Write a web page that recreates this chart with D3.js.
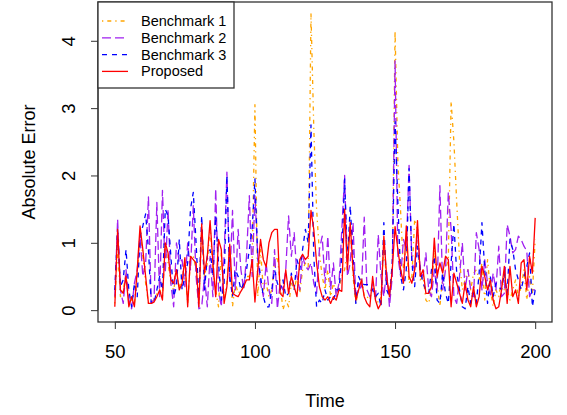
<!DOCTYPE html>
<html>
<head>
<meta charset="utf-8">
<script src="https://cdn.jsdelivr.net/npm/d3@7"></script>
<style>
  body { margin: 0; background: #fff; }
  svg { display: block; font-family: "Liberation Sans", Arial, sans-serif; }
</style>
</head>
<body>
<svg id="chart" width="567" height="415"></svg>
<script>
// time axis 50..200
const times = d3.range(50, 201);

const bench1 = [
  0.1, 0.9, 0.2, 0.3, 0.55, 0.1, 0.15, 0.1, 0.5, 1.15,
  0.8, 0.4, 0.1, 0.12, 0.15, 0.25, 0.3, 0.2, 0.95, 0.7,
  0.4, 0.3, 0.55, 0.35, 0.45, 0.7, 0.1, 0.75, 0.8, 0.6,
  0.1, 1.2, 0.5, 0.7, 1.25, 0.6, 0.3, 0.05, 0.85, 0.15,
  0.4, 0.9, 0.05, 0.4, 0.25, 0.3, 0.4, 0.5, 0.5, 0.7,
  3.05, 0.2, 0.9, 0.3, 0.4, 0.2, 0.3, 0.7, 0.8, 0.4,
  0.0, 0.15, 0.05, 0.4, 0.3, 0.5, 0.25, 0.6, 0.7, 0.6,
  4.4, 2.7, 1.5, 0.85, 0.5, 0.3, 0.6, 0.2, 0.4, 0.25,
  0.35, 0.5, 0.6, 0.9, 1.2, 0.5, 0.1, 0.3, 0.5, 0.2,
  0.2, 0.15, 0.4, 0.25, 0.1, 0.2, 1.0, 0.4, 0.3, 0.5,
  4.15, 2.2, 1.45, 0.6, 1.0, 0.4, 0.5, 1.35, 1.2, 0.45,
  0.5, 0.15, 0.1, 0.3, 0.9, 0.4, 0.05, 0.5, 0.6, 0.75,
  3.1, 2.5, 1.6, 0.75, 0.3, 0.45, 0.6, 0.3, 0.55, 0.6,
  0.45, 0.7, 0.15, 0.75, 0.3, 0.05, 0.3, 0.2, 0.45, 0.3,
  0.3, 0.15, 0.3, 0.45, 0.2, 0.35, 0.6, 0.15, 0.5, 0.25,
  1.05
];

const bench2 = [
  0.2, 1.35, 0.3, 0.1, 0.6, 0.15, 0.02, 0.4, 0.6, 1.1,
  0.5, 0.7, 1.68, 0.1, 0.15, 1.6, 0.2, 1.78, 0.55, 1.5,
  0.4, 0.05, 1.0, 0.7, 0.75, 0.35, 1.0, 0.6, 1.55, 0.5,
  0.02, 0.05, 0.5, 0.05, 0.8, 0.2, 1.8, 0.3, 0.05, 0.8,
  2.05, 0.4, 1.48, 0.3, 1.2, 0.6, 0.3, 0.8, 1.7, 0.5,
  1.7, 0.8, 0.4, 0.2, 0.7, 0.3, 0.1, 0.9, 0.02, 0.4,
  0.3, 0.6, 1.4, 0.8, 1.15, 0.5, 0.3, 0.8, 0.65, 0.6,
  0.7, 0.4, 0.25, 0.9, 1.1, 0.4, 1.1, 0.3, 0.7, 0.2,
  0.4, 1.2, 2.0, 0.5, 0.7, 1.3, 0.15, 0.4, 0.3, 1.38,
  0.3, 0.2, 0.4, 0.15, 1.12, 0.5, 0.2, 0.6, 0.05, 0.5,
  3.7, 0.8, 0.5, 1.05, 0.9, 2.15, 0.7, 0.6, 1.2, 0.6,
  0.5, 0.85, 0.3, 0.2, 0.6, 0.3, 1.85, 0.3, 0.6, 1.75,
  1.2, 0.2, 0.1, 0.5, 1.0, 0.3, 0.6, 0.3, 0.2, 1.15,
  0.9, 0.3, 0.75, 0.4, 0.2, 0.55, 0.3, 0.95, 0.2, 0.25,
  1.27, 1.1, 0.85, 0.9, 1.1, 1.05, 0.95, 0.88, 0.2, 0.3,
  0.3
];

const bench3 = [
  0.3, 1.2, 0.35, 0.45, 0.9, 0.3, 0.05, 0.4, 0.2, 1.1,
  1.25, 1.43, 0.9, 0.1, 0.1, 0.3, 0.5, 0.3, 1.5, 1.4,
  0.8, 0.2, 0.35, 1.05, 0.3, 0.5, 0.7, 1.5, 1.75, 1.0,
  0.15, 1.4, 0.3, 0.8, 0.9, 0.5, 1.4, 0.7, 0.15, 0.4,
  2.0, 0.5, 0.2, 0.6, 0.5, 0.3, 0.4, 0.6, 0.9, 1.2,
  1.95, 0.8, 0.5, 0.2, 0.05, 0.05, 0.3, 0.6, 0.4, 0.3,
  0.45, 0.2, 0.25, 0.55, 0.3, 0.75, 0.6, 0.9, 1.2, 1.0,
  2.75, 0.8, 0.05, 0.15, 0.1, 0.3, 0.15, 0.2, 0.15, 0.3,
  0.3, 0.8, 1.95, 0.7, 1.55, 0.8, 0.1, 0.5, 0.4, 0.38,
  0.38, 0.38, 0.3, 0.2, 0.25, 0.05, 1.3, 0.3, 0.2, 0.7,
  2.8, 1.6, 0.5, 0.3, 0.6, 2.1, 0.7, 0.35, 0.95, 0.6,
  0.4, 0.3, 0.25, 0.6, 0.8, 0.15, 0.1, 0.55, 0.25, 0.1,
  0.7, 1.28, 0.55, 0.3, 0.05, 0.02, 0.35, 0.1, 0.3, 0.1,
  0.55, 1.3, 0.6, 0.1, 0.5, 0.2, 0.4, 0.35, 0.3, 0.55,
  0.25, 1.05, 0.9, 0.6, 0.45, 0.3, 0.5, 0.65, 0.85, 0.05,
  0.3
];

const proposed = [
  0.05, 1.2, 0.3, 0.25, 0.5, 0.05, 0.2, 0.05, 0.6, 1.25,
  0.9, 0.5, 0.1, 0.1, 0.12, 0.2, 0.3, 0.15, 1.0, 0.85,
  0.45, 0.4, 0.6, 0.3, 0.4, 0.78, 0.05, 0.8, 0.75, 0.7,
  0.05, 1.28, 0.55, 0.8, 1.33, 0.7, 0.2, 1.05, 0.9, 0.1,
  0.35, 0.98, 0.25, 0.22, 0.2, 0.28, 0.35, 0.45, 0.45, 0.75,
  0.12, 0.6, 1.05, 0.75, 0.64, 1.0, 1.15, 1.2, 1.2, 0.25,
  0.2, 0.6, 0.25, 0.5, 0.35, 0.2, 0.75, 0.83, 0.75, 0.8,
  1.48, 1.2, 0.7, 0.35, 0.2, 0.15, 0.2, 0.1, 0.2, 0.15,
  0.3, 0.28, 1.5, 0.6, 1.3, 0.6, 0.15, 0.3, 0.45, 0.2,
  0.1, 0.05, 0.5, 0.15, 0.02, 0.1, 1.1, 0.5, 0.2, 0.6,
  1.24, 0.9, 0.6, 0.4, 1.25, 0.5, 0.4, 0.6, 1.33, 0.5,
  0.6, 0.25, 0.25, 0.35, 1.07, 0.5, 0.7, 0.55, 0.8, 0.75,
  0.05, 0.55, 0.4, 0.25, 0.1, 0.4, 0.15, 0.05, 0.35, 0.05,
  0.2, 0.65, 0.5, 0.3, 0.45, 0.15, 0.02, 0.05, 0.3, 0.65,
  0.1, 0.65, 0.2, 0.3, 0.1, 0.7, 0.75, 0.3, 0.8, 0.55,
  1.37
];

const seriesNames = ['Benchmark 1', 'Benchmark 2', 'Benchmark 3', 'Proposed'];
const seriesValues = [bench1, bench2, bench3, proposed];
const seriesColors = ['orange', '#A020F0', 'blue', 'red'];
const seriesDash = ['1.3,4,4,4', '9,4', '5,5', null];

const xTicks = [50, 100, 150, 200];
const yTicks = [0, 1, 2, 3, 4];

const svg = d3.select('#chart');
const box = { left: 98, right: 552, top: 2, bottom: 322 };
const fontFam = '"Liberation Sans", Arial, sans-serif';

// R-style 4% range expansion
const xPad = (200 - 50) * 0.04;
const yMax = 4.4;
const yPad = yMax * 0.04;
const x = d3.scaleLinear().domain([50 - xPad, 200 + xPad]).range([box.left, box.right]);
const y = d3.scaleLinear().domain([-yPad, yMax + yPad]).range([box.bottom, box.top]);

const line = d3.line()
    .x((d, i) => x(times[i]))
    .y(d => y(d));

seriesValues.forEach((vals, k) => {
    svg.append('path')
        .datum(vals)
        .attr('fill', 'none')
        .attr('stroke', seriesColors[k])
        .attr('stroke-width', 1.3)
        .attr('stroke-dasharray', seriesDash[k])
        .attr('stroke-linejoin', 'round')
        .attr('d', line);
});

// plot box
svg.append('rect')
    .attr('x', box.left).attr('y', box.top)
    .attr('width', box.right - box.left).attr('height', box.bottom - box.top)
    .attr('fill', 'none').attr('stroke', '#333').attr('stroke-width', 1.3);

// x axis
const xAxis = svg.append('g')
    .attr('transform', `translate(0,${box.bottom})`)
    .call(d3.axisBottom(x).tickValues(xTicks).tickSize(7).tickPadding(16).tickSizeOuter(0));
xAxis.select('.domain').attr('d', `M${x(50)},0H${x(200)}`).attr('stroke', '#333');
xAxis.selectAll('.tick line').attr('stroke', '#333');
xAxis.selectAll('text').attr('font-size', 18.5).attr('fill', '#000')
    .attr('font-family', fontFam);

// y axis
const yAxis = svg.append('g')
    .attr('transform', `translate(${box.left},0)`)
    .call(d3.axisLeft(y).tickValues(yTicks).tickFormat(d3.format('d')).tickSize(7).tickSizeOuter(0));
yAxis.select('.domain').attr('d', `M0,${y(0)}V${y(4)}`).attr('stroke', '#333');
yAxis.selectAll('.tick line').attr('stroke', '#333');
yAxis.selectAll('.tick text')
    .attr('x', null).attr('dy', null)
    .attr('transform', 'translate(-30,0) rotate(-90)')
    .attr('text-anchor', 'middle')
    .attr('dominant-baseline', 'central')
    .attr('font-size', 18.5).attr('fill', '#000')
    .attr('font-family', fontFam);

// axis titles
svg.append('text')
    .attr('x', (box.left + box.right) / 2)
    .attr('y', 407)
    .attr('text-anchor', 'middle')
    .attr('font-size', 18)
    .text('Time');

svg.append('text')
    .attr('transform', `translate(35,${(box.top + box.bottom) / 2}) rotate(-90)`)
    .attr('text-anchor', 'middle')
    .attr('font-size', 18)
    .text('Absolute Error');

// legend
const legend = svg.append('g');
legend.append('rect')
    .attr('x', box.left).attr('y', box.top)
    .attr('width', 136).attr('height', 86)
    .attr('fill', '#fff').attr('stroke', '#333').attr('stroke-width', 1.3);

seriesNames.forEach((name, k) => {
    const ly = 21 + k * 16.8;
    legend.append('line')
        .attr('x1', 102).attr('x2', 128)
        .attr('y1', ly).attr('y2', ly)
        .attr('stroke', seriesColors[k])
        .attr('stroke-width', 1.3)
        .attr('stroke-dasharray', seriesDash[k]);
    legend.append('text')
        .attr('x', 141).attr('y', ly)
        .attr('dominant-baseline', 'central')
        .attr('font-size', 14.5)
        .text(name);
});
</script>
</body>
</html>
